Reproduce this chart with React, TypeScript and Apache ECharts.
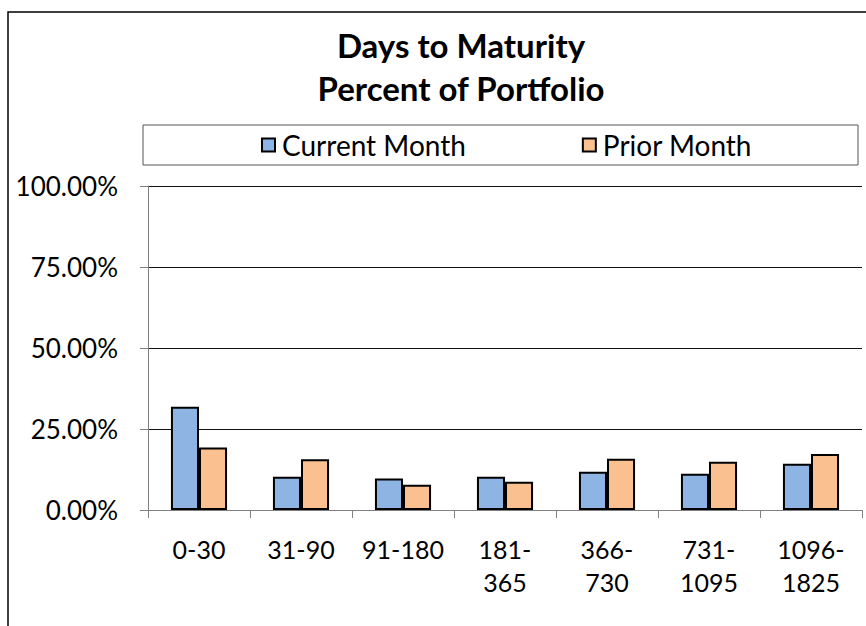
import React, { useEffect, useRef } from "react";
import * as echarts from "echarts";

const categories = ["0-30", "31-90", "91-180", "181-\n365", "366-\n730", "731-\n1095", "1096-\n1825"];
const currentMonth = [0.319, 0.103, 0.097, 0.103, 0.118, 0.112, 0.143];
const priorMonth = [0.193, 0.157, 0.078, 0.087, 0.158, 0.149, 0.173];
const titleLines = ["Days to Maturity", "Percent of Portfolio"];
const seriesNames = ["Current Month", "Prior Month"];

const FONT = "Lato, 'Liberation Sans', sans-serif";

export default function App() {
  const ref = useRef<HTMLDivElement>(null);
  useEffect(() => {
    if (!ref.current) return;
    const chart = echarts.init(ref.current, undefined, { renderer: "svg" });
    chart.setOption({
      animation: false,
      backgroundColor: "#ffffff",
      textStyle: { fontFamily: FONT },
      title: {
        text: titleLines.join("\n"),
        left: 456,
        textAlign: "center",
        top: 18,
        textStyle: { fontFamily: FONT, fontSize: 33, fontWeight: "bold", color: "#000", lineHeight: 43 },
      },
      graphic: [
        { type: "rect", shape: { x: 8, y: 12, width: 900, height: 700 }, style: { fill: "none", stroke: "#000", lineWidth: 1.5 }, silent: true },
        { type: "rect", shape: { x: 143, y: 125, width: 715, height: 40 }, style: { fill: "none", stroke: "#555", lineWidth: 1 }, silent: true },
      ],
      legend: {
        data: seriesNames,
        left: 256,
        top: 126,
        itemGap: 116,
        itemWidth: 13,
        itemHeight: 13,
        icon: "rect",
        textStyle: { fontFamily: FONT, fontSize: 28, color: "#000", padding: [0, 0, 0, 2] },
      },
      grid: { left: 148, right: 4, top: 186, bottom: 116 },
      xAxis: {
        type: "category",
        data: categories,
        axisLine: { lineStyle: { color: "#808080", width: 1 } },
        axisTick: { show: true, length: 8, lineStyle: { color: "#808080" } },
        axisLabel: { interval: 0, fontFamily: FONT, fontSize: 25, color: "#000", lineHeight: 33, margin: 22 },
      },
      yAxis: {
        type: "value",
        min: 0,
        max: 1,
        interval: 0.25,
        axisLine: { show: true, lineStyle: { color: "#808080", width: 1 } },
        axisTick: { show: true, length: 8, lineStyle: { color: "#808080" } },
        axisLabel: {
          fontFamily: FONT,
          fontSize: 26,
          color: "#000",
          margin: 30,
          formatter: (v: number) => (v * 100).toFixed(2) + "%",
        },
        splitLine: { lineStyle: { color: "#111", width: 1 } },
      },
      series: [
        {
          name: seriesNames[0],
          type: "bar",
          data: currentMonth,
          barGap: "0%",
          barCategoryGap: "45%",
          itemStyle: { color: "#8EB4E3", borderColor: "#000", borderWidth: 2 },
        },
        {
          name: seriesNames[1],
          type: "bar",
          data: priorMonth,
          itemStyle: { color: "#FAC090", borderColor: "#000", borderWidth: 2 },
        },
      ],
    });
    return () => chart.dispose();
  }, []);
  return <div ref={ref} style={{ position: "fixed", left: 0, top: 0, width: 866, height: 626 }} />;
}
